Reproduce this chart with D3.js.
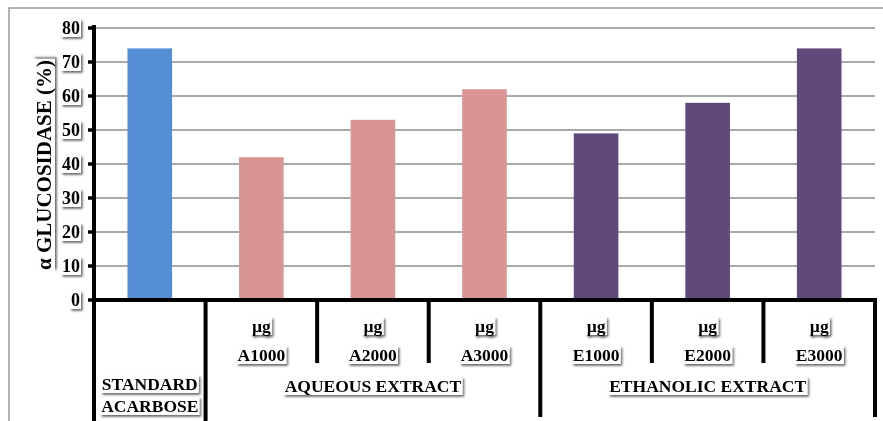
<!DOCTYPE html>
<html>
<head>
<meta charset="utf-8">
<script src="https://cdn.jsdelivr.net/npm/d3@7"></script>
<style>
  html, body { margin: 0; padding: 0; background: #fff; }
  svg { display: block; }
  text { font-family: "Liberation Serif", "Times New Roman", serif; font-weight: bold; fill: #000; }
</style>
</head>
<body>
<div id="chart"></div>
<script>
// Alpha-glucosidase inhibition by sample
const categories = ["STANDARD ACARBOSE", "A1000", "A2000", "A3000", "E1000", "E2000", "E3000"];
const values = [74, 42, 53, 62, 49, 58, 74];
const doseUnits = ["", "µg", "µg", "µg", "µg", "µg", "µg"];
const groupNames = ["", "AQUEOUS EXTRACT", "AQUEOUS EXTRACT", "AQUEOUS EXTRACT", "ETHANOLIC EXTRACT", "ETHANOLIC EXTRACT", "ETHANOLIC EXTRACT"];
const barColors = ["#558ED5", "#D99594", "#D99594", "#D99594", "#604A7B", "#604A7B", "#604A7B"];
const yTicks = [0, 10, 20, 30, 40, 50, 60, 70, 80];
const yTitle = "α GLUCOSIDASE (%)";

const W = 883, H = 421;
const plotLeft = 94, plotRight = 875, plotTop = 28, plotBase = 300;

const svg = d3.select("#chart").append("svg").attr("width", W).attr("height", H);

// drop shadow used behind every label box
const defs = svg.append("defs");
const f = defs.append("filter").attr("id", "shadow")
  .attr("x", "-20%").attr("y", "-30%").attr("width", "150%").attr("height", "170%");
f.append("feDropShadow").attr("dx", 1.6).attr("dy", 1.8).attr("stdDeviation", 1.3)
  .attr("flood-color", "#000").attr("flood-opacity", 0.6);

// outer frame
svg.append("rect").attr("x", 9).attr("y", 8).attr("width", W).attr("height", H)
  .attr("fill", "none").attr("stroke", "#9a9a9a").attr("stroke-width", 1.5);

const x = d3.scaleBand().domain(categories).range([plotLeft, plotRight]).paddingInner(0.6).paddingOuter(0.3);
const y = d3.scaleLinear().domain([0, 80]).range([plotBase, plotTop]);
const step = x.step();

// text with white box and shadow
function boxedText(parent, str, tx, ty, size, anchor, rotate) {
  const g = parent.append("g").attr("filter", "url(#shadow)");
  if (rotate) g.attr("transform", `translate(${tx},${ty}) rotate(-90)`);
  else g.attr("transform", `translate(${tx},${ty})`);
  const rect = g.append("rect").attr("fill", "#fff");
  const t = g.append("text").attr("text-anchor", anchor || "middle")
    .attr("dominant-baseline", "central").style("font-size", size + "px").text(str);
  const b = t.node().getBBox();
  rect.attr("x", b.x - 1).attr("y", b.y + 1).attr("width", b.width + 2).attr("height", b.height - 2);
  return g;
}

// gridlines
svg.append("g").selectAll("line").data(yTicks.filter(d => d > 0)).join("line")
  .attr("x1", plotLeft).attr("x2", plotRight)
  .attr("y1", d => y(d)).attr("y2", d => y(d))
  .attr("stroke", "#8c8c8c").attr("stroke-width", 1.5);

// bars
svg.append("g").selectAll("rect").data(values).join("rect")
  .attr("x", (d, i) => x(categories[i]))
  .attr("width", x.bandwidth())
  .attr("y", d => y(d))
  .attr("height", d => plotBase - y(d))
  .attr("fill", (d, i) => barColors[i]);

// y axis line, ticks and labels
svg.append("line").attr("x1", plotLeft).attr("x2", plotLeft).attr("y1", plotTop - 3).attr("y2", plotBase)
  .attr("stroke", "#000").attr("stroke-width", 4);
svg.append("g").selectAll("line").data(yTicks).join("line")
  .attr("x1", plotLeft - 6).attr("x2", plotLeft)
  .attr("y1", d => y(d)).attr("y2", d => y(d))
  .attr("stroke", "#000").attr("stroke-width", 3.5);
const yl = svg.append("g");
yTicks.forEach(d => boxedText(yl, d, 80, y(d), 18, "end"));

boxedText(svg, yTitle, 44, 165, 21, "middle", true);

// category axis with nested group dividers
svg.append("line").attr("x1", plotLeft - 2).attr("x2", plotRight + 2).attr("y1", plotBase).attr("y2", plotBase)
  .attr("stroke", "#000").attr("stroke-width", 4);

const dividers = d3.range(categories.length + 1).map(i => {
  const prev = groupNames[i - 1], next = groupNames[i];
  const groupEdge = i === 0 || i === categories.length || prev !== next;
  return { x: plotLeft + i * step, groupEdge };
});
svg.append("g").selectAll("line").data(dividers).join("line")
  .attr("x1", d => d.x).attr("x2", d => d.x)
  .attr("y1", plotBase).attr("y2", (d, i) => d.groupEdge ? (i < 2 ? H : 417) : 363)
  .attr("stroke", "#000").attr("stroke-width", 4);

const xl = svg.append("g");
categories.forEach((c, i) => {
  const cx = x(c) + x.bandwidth() / 2;
  if (groupNames[i] === "") {
    const words = c.split(" ");
    boxedText(xl, words[0], cx, 384, 17.5, "middle");
    boxedText(xl, words[1], cx, 406, 17.5, "middle");
  } else {
    boxedText(xl, doseUnits[i], cx, 326, 17.5, "middle");
    boxedText(xl, c, cx, 355, 17.5, "middle");
  }
});

// group captions centred under their spans
const groups = [...new Set(groupNames.filter(g => g))];
groups.forEach(gname => {
  const idx = groupNames.map((g, i) => g === gname ? i : -1).filter(i => i >= 0);
  const x0 = plotLeft + idx[0] * step, x1 = plotLeft + (idx[idx.length - 1] + 1) * step;
  boxedText(xl, gname, (x0 + x1) / 2, 386, 17.5, "middle");
});
</script>
</body>
</html>
